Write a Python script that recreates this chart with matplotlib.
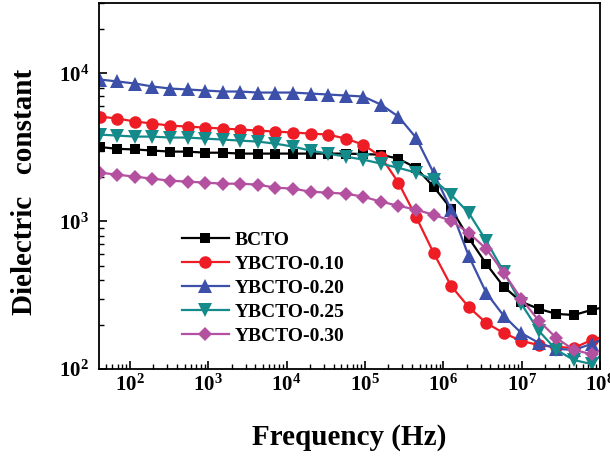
import math
import matplotlib
matplotlib.use("Agg")
import matplotlib.pyplot as plt
from matplotlib.ticker import LogLocator, FixedLocator, FuncFormatter, NullFormatter

plt.rcParams['font.family'] = ['Liberation Serif', 'DejaVu Serif']
plt.rcParams['font.weight'] = 'bold'
plt.rcParams['mathtext.fontset'] = 'custom'
plt.rcParams['mathtext.rm'] = 'Liberation Serif:bold'
plt.rcParams['mathtext.bf'] = 'Liberation Serif:bold'
plt.rcParams['mathtext.it'] = 'Liberation Serif:bold:italic'

# Frequencies (Hz)
freq = [41.5, 69.6, 117, 195, 327, 548, 918, 1538, 2576, 4315,
        7230, 12110, 20280, 33980, 56920, 95400, 159900, 267800, 448600, 751500,
        1.259e6, 2.109e6, 3.532e6, 5.916e6, 9.91e6, 1.66e7, 2.78e7, 4.66e7, 7.80e7, 1.306e8]

labels = ["BCTO", "YBCTO-0.10", "YBCTO-0.20", "YBCTO-0.25", "YBCTO-0.30"]

bcto = [3180, 3090, 3060, 3010, 2960, 2960, 2910, 2910, 2870, 2870,
        2870, 2870, 2870, 2870, 2870, 2850, 2820, 2650, 2300, 1715,
        1216, 773, 515, 360, 285, 255, 236, 232, 251, 267]
ybcto_010 = [5110, 4955, 4730, 4585, 4440, 4370, 4305, 4240, 4175, 4110,
             4045, 3985, 3920, 3860, 3625, 3300, 2740, 1825, 1073, 612,
             365, 263, 205, 175, 155, 145, 141, 139, 157, 170]
ybcto_020 = [9105, 8830, 8550, 8165, 7910, 7795, 7670, 7550, 7550, 7430,
             7430, 7430, 7315, 7205, 7095, 6985, 6165, 5110, 3685, 2130,
             1197, 584, 328, 229, 175, 150, 137, 134.5, 148, 165]
ybcto_025 = [3858, 3800, 3740, 3740, 3685, 3685, 3625, 3570, 3515, 3460,
             3350, 3200, 3005, 2870, 2737, 2612, 2455, 2300, 2133, 1912,
             1512, 1143, 738, 455, 276, 181, 134.5, 115, 108, 140]
ybcto_030 = [2133, 2066, 2003, 1941, 1882, 1854, 1825, 1796, 1796, 1768,
             1688, 1662, 1585, 1561, 1537, 1466, 1356, 1274, 1197, 1107,
             1007, 835, 651, 448, 298, 212, 162, 134.5, 126, 141]

x_major = [1e2, 1e3, 1e4, 1e5, 1e6, 1e7, 1e8]
y_major = [1e2, 1e3, 1e4]

series = [bcto, ybcto_010, ybcto_020, ybcto_025, ybcto_030]
colors = ['#000000', '#EE1C25', '#3C50AA', '#148A8A', '#B450A0']
markers = ['s', 'o', '^', 'v', 'D']
msizes = [7.5, 9, 9.5, 9.5, 7.5]

fig = plt.figure(figsize=(6.1, 4.57), dpi=100)
ax = fig.add_axes([99/610, 1 - 369/457, (600 - 99)/610, (369 - 3)/457])

for y, c, m, ms, lab in zip(series, colors, markers, msizes, labels):
    ax.plot(freq, y, color=c, marker=m, markersize=ms, linewidth=1.6,
            markeredgewidth=0, label=lab)

ax.set_xscale('log')
ax.set_yscale('log')
ax.set_xlim(40.5, 1e8)
ax.set_ylim(100, 3.0e4)

fmt = FuncFormatter(lambda v, p: r'$\mathbf{10^{%d}}$' % round(math.log10(v)))
ax.xaxis.set_major_locator(FixedLocator(x_major))
ax.xaxis.set_minor_locator(LogLocator(base=10, subs=range(2, 10), numticks=20))
ax.yaxis.set_major_locator(FixedLocator(y_major))
ax.yaxis.set_minor_locator(LogLocator(base=10, subs=range(2, 10), numticks=20))
ax.xaxis.set_major_formatter(fmt)
ax.yaxis.set_major_formatter(fmt)
ax.xaxis.set_minor_formatter(NullFormatter())
ax.yaxis.set_minor_formatter(NullFormatter())

ax.tick_params(which='major', direction='in', length=6, width=1.2, labelsize=15,
               top=False, right=False)
ax.tick_params(which='minor', direction='in', length=3.5, width=1.0,
               top=False, right=False)
ax.tick_params(axis='x', which='major', pad=4)
ax.tick_params(axis='y', which='major', pad=7)

for s in ax.spines.values():
    s.set_linewidth(1.3)

ax.set_xlabel('Frequency (Hz)', fontsize=21, fontweight='bold')
ax.set_ylabel('Dielectric   constant', fontsize=21, fontweight='bold')
ax.xaxis.set_label_coords(0.5, -0.150)
ax.yaxis.set_label_coords(-0.122, 0.484)

leg = ax.legend(loc='upper left', bbox_to_anchor=(0.166, 0.377), frameon=False,
                handlelength=2.4, handletextpad=0.3,
                labelspacing=0.33, borderpad=0, borderaxespad=0,
                prop={'weight': 'bold', 'size': 14})

fig.savefig('out.png', dpi=100)
